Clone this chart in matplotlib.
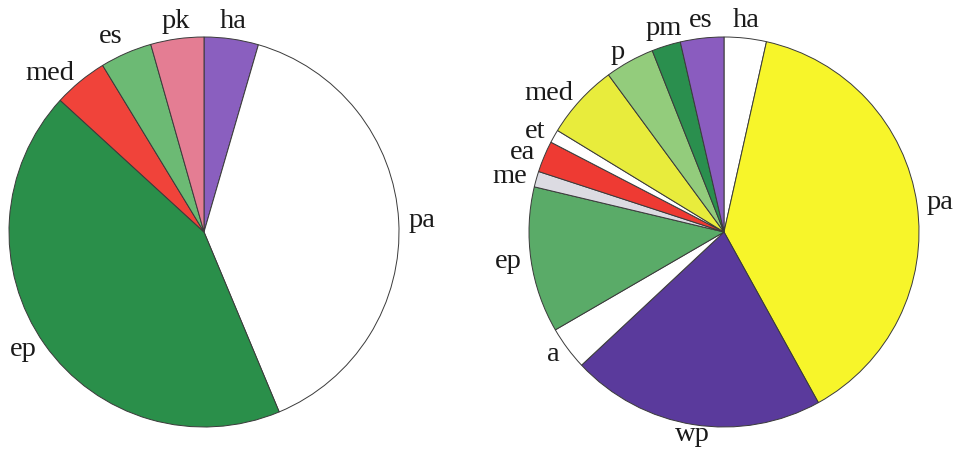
import numpy as np
import matplotlib
matplotlib.use("Agg")
import matplotlib.pyplot as plt

plt.rcParams['font.family'] = ['Liberation Serif', 'DejaVu Serif']

# Left pie
left_labels = ["ha", "pa", "ep", "med", "es", "pk"]
left_values = [4.5, 39.2, 43.1, 4.5, 4.3, 4.4]
left_colors = ["#8a5fbf", "#ffffff", "#2a8f4a", "#f0433a", "#6cba74", "#e47d93"]

# Right pie
right_labels = ["ha", "pa", "wp", "a", "ep", "me", "ea", "et", "med", "p", "pm", "es"]
right_values = [3.5, 38.5, 21.1, 3.6, 12.1, 1.3, 2.6, 1.1, 6.2, 4.1, 2.4, 3.6]
right_colors = ["#ffffff", "#f7f52a", "#5a3a9c", "#ffffff", "#5aab68", "#dcdbe2",
                "#ee3a33", "#ffffff", "#e8ec3c", "#93cc7c", "#2a8f4e", "#8a5cbf"]

W, H = 960, 455
fig = plt.figure(figsize=(W / 100, H / 100), dpi=100)
R = 195
cy = 232


def draw(cx, labels, values, colors):
    ax = fig.add_axes([(cx - R) / W, (H - cy - R) / H, 2 * R / W, 2 * R / H])
    wedges, _ = ax.pie(values, colors=colors, startangle=90, counterclock=False,
                       radius=1.0,
                       wedgeprops=dict(edgecolor="#3a3a3a", linewidth=0.7))
    for w, lab in zip(wedges, labels):
        th = np.deg2rad((w.theta1 + w.theta2) / 2)
        c, s = np.cos(th), np.sin(th)
        d = 1.05
        if c > 0.3:
            ha = "left"
        elif c < -0.3:
            ha = "right"
        else:
            ha = "center"
        ax.text(d * c, d * s + (0.04 if s > 0.9 else 0), lab, ha=ha, va="center",
                fontsize=20.5, color="#1a1a1a")
    ax.set_xlim(-1, 1)
    ax.set_ylim(-1, 1)
    ax.set_aspect("equal")
    ax.axis("off")


draw(204, left_labels, left_values, left_colors)
draw(724, right_labels, right_values, right_colors)

fig.savefig("out.png", dpi=100)
